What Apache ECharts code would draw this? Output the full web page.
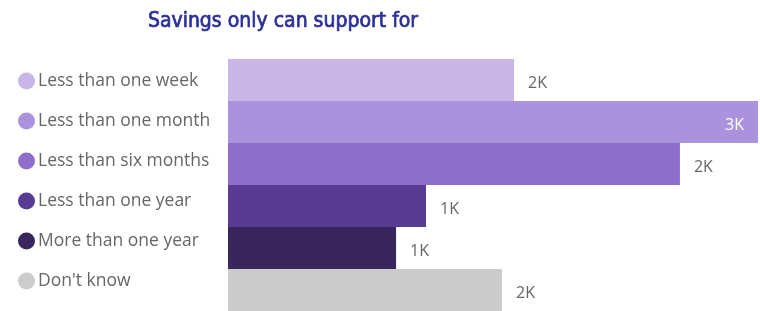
<!DOCTYPE html>
<html>
<head>
<meta charset="utf-8">
<script src="https://cdn.jsdelivr.net/npm/echarts@6/dist/echarts.min.js"></script>
<style>html,body{margin:0;padding:0;background:#fff}#c{width:760px;height:311px}</style>
</head>
<body>
<div id="c"></div>
<script>
var categories = ["Less than one week","Less than one month","Less than six months","Less than one year","More than one year","Don't know"];
var values = [1576, 2920, 2490, 1091, 926, 1510];
var colors = ["#c8b7e6","#ab92dc","#8d6ecb","#583b93","#38265d","#cccccc"];
var titleText = "Savings only can support for";

var maxVal = Math.max.apply(null, values);

var series = categories.map(function(name, i){
  var d = categories.map(function(){ return null; });
  d[i] = values[i];
  var isMax = values[i] === maxVal;
  return {
    name: name, type: 'bar', stack: 'all', data: d, barCategoryGap: 0,
    itemStyle: { color: colors[i] },
    label: {
      show: true, fontSize: 16, fontFamily: 'Open Sans', offset: [0, 3],
      position: isMax ? 'insideRight' : 'right', distance: 14,
      color: isMax ? '#ffffff' : '#666666',
      formatter: function(p){ return Math.round(p.value/1000) + 'K'; }
    }
  };
});

var chart = echarts.init(document.getElementById('c'));
chart.setOption({
  animation: false,
  title: {
    text: titleText, left: 278, top: 6, textAlign: 'center',
    textStyle: { color: '#2b2f99', fontSize: 21, fontWeight: 'normal', fontFamily: 'DejaVu Sans Condensed',
      textBorderColor: '#2b2f99', textBorderWidth: 0.7 }
  },
  legend: {
    orient: 'vertical', left: 18, top: 71, itemGap: 20, padding: 0,
    icon: 'circle', itemWidth: 17, itemHeight: 17,
    selectedMode: false,
    textStyle: { color: '#666666', fontSize: 17.5, fontFamily: 'Open Sans', lineHeight: 20, padding: [0,0,0,-2] },
    data: categories
  },
  grid: { left: 228, right: 2, top: 59, bottom: 0 },
  xAxis: { type: 'value', min: 0, max: maxVal, show: false },
  yAxis: { type: 'category', inverse: true, data: categories, show: false },
  series: series
});
</script>
</body>
</html>
